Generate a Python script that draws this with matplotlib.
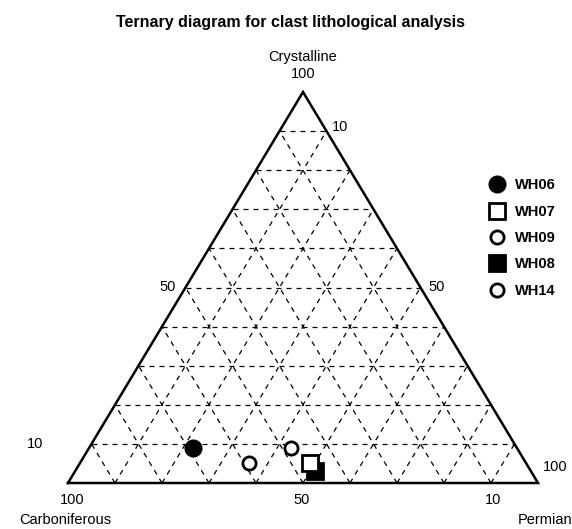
import numpy as np
import matplotlib
matplotlib.use("Agg")
import matplotlib.pyplot as plt

plt.rcParams['font.family'] = ['Liberation Sans', 'DejaVu Sans']

# sample composition in percent (Carboniferous, Permian, Crystalline)
samples = ["WH06", "WH07", "WH09", "WH08", "WH14"]
carboniferous = [69, 46, 59, 46, 48]
permian = [22, 49, 36, 51, 43]
crystalline = [9, 5, 5, 3, 9]
markers = ["o", "s", "o", "s", "o"]
facecolors = ["black", "white", "white", "black", "white"]
sizes = [11, 11, 9.5, 11, 9.5]
draw_order = [1, 4, 2, 3, 5]

grid_levels = [10, 20, 30, 40, 50, 60, 70, 80, 90]


def to_xy(p, c):
    # x along the base (Permian side to the right), y = Crystalline fraction
    p = np.asarray(p) / 100.0
    c = np.asarray(c) / 100.0
    return p + c / 2, c


fig = plt.figure(figsize=(5.72, 5.29), dpi=100)
W, H = 572, 529
ax = fig.add_axes([68 / W, (529 - 483) / H, 470 / W, 391 / H])
ax.set_xlim(0, 1)
ax.set_ylim(0, 1)
ax.axis("off")

# triangle outline
ax.plot([0, 1, 0.5, 0], [0, 0, 1, 0], color="black", lw=1.8, clip_on=False,
        zorder=3, solid_joinstyle="miter")

# dashed grid
for g in grid_levels:
    # constant crystalline
    x1, y1 = to_xy(0, g)
    x2, y2 = to_xy(100 - g, g)
    ax.plot([x1, x2], [y1, y2], color="black", lw=0.9, ls=(0, (4, 4)), zorder=1)
    # constant permian
    x1, y1 = to_xy(g, 0)
    x2, y2 = to_xy(g, 100 - g)
    ax.plot([x1, x2], [y1, y2], color="black", lw=0.9, ls=(0, (4, 4)), zorder=1)
    # constant carboniferous
    x1, y1 = to_xy(100 - g, 0)
    x2, y2 = to_xy(0, 100 - g)
    ax.plot([x1, x2], [y1, y2], color="black", lw=0.9, ls=(0, (4, 4)), zorder=1)

# data points
handles = [None] * len(samples)
for i, name in enumerate(samples):
    x, y = to_xy(permian[i], crystalline[i])
    h, = ax.plot(x, y, marker=markers[i], ms=sizes[i], mfc=facecolors[i],
                 mec="black", mew=2, ls="none", label=name,
                 zorder=4 + draw_order[i], clip_on=False)
    handles[i] = h

leg = fig.legend(handles=handles, labels=samples, loc="upper left",
                 bbox_to_anchor=(481 / W, 1 - 171 / H), frameon=False,
                 handletextpad=0.6, labelspacing=0.85, fontsize=10.5,
                 handlelength=1.2, borderpad=0)
for t in leg.get_texts():
    t.set_fontweight("bold")

fs = 10.5
fig.text(290 / W, 1 - 22 / H, "Ternary diagram for clast lithological analysis",
         ha="center", va="center", fontsize=11.5, fontweight="bold")
fig.text(303 / W, 1 - 57 / H, "Crystalline", ha="center", va="center", fontsize=fs)
fig.text(303 / W, 1 - 74 / H, "100", ha="center", va="center", fontsize=fs)
fig.text(65 / W, 1 - 520 / H, "Carboniferous", ha="center", va="center", fontsize=fs)
fig.text(545 / W, 1 - 520 / H, "Permian", ha="center", va="center", fontsize=fs)

# axis tick labels
fig.text(72 / W, 1 - 500 / H, "100", ha="center", va="center", fontsize=fs)
fig.text(302 / W, 1 - 500 / H, "50", ha="center", va="center", fontsize=fs)
fig.text(493 / W, 1 - 500 / H, "10", ha="center", va="center", fontsize=fs)
fig.text(35 / W, 1 - 444 / H, "10", ha="center", va="center", fontsize=fs)
fig.text(168 / W, 1 - 287 / H, "50", ha="center", va="center", fontsize=fs)
fig.text(437 / W, 1 - 287 / H, "50", ha="center", va="center", fontsize=fs)
fig.text(340 / W, 1 - 127 / H, "10", ha="center", va="center", fontsize=fs)
fig.text(555 / W, 1 - 467 / H, "100", ha="center", va="center", fontsize=fs)

fig.savefig("out.png", dpi=100)
